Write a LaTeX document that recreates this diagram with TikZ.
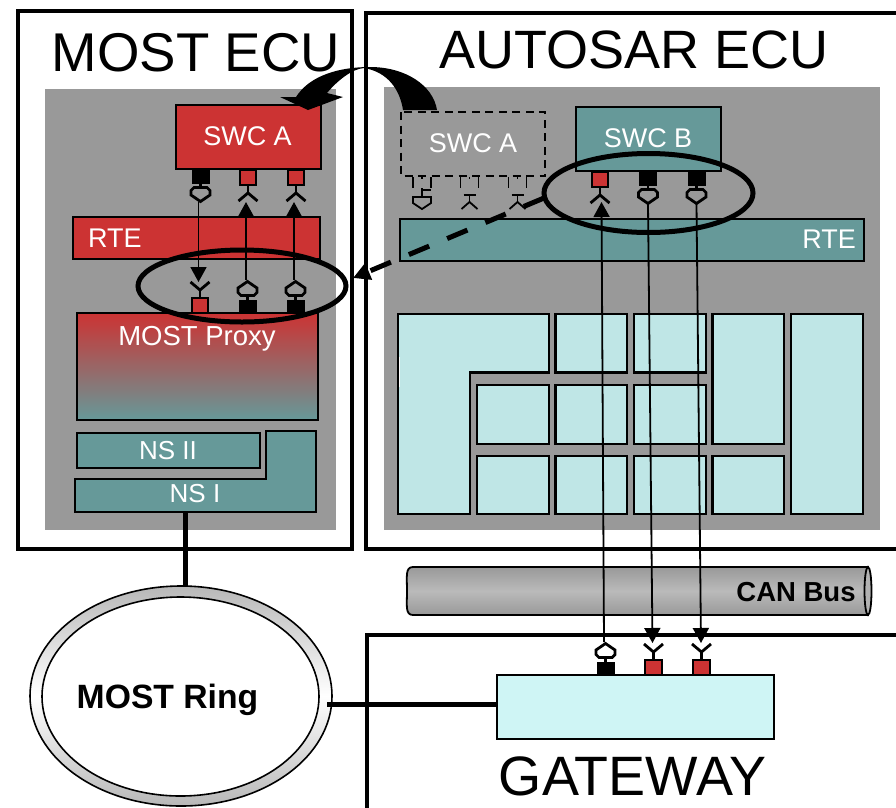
\documentclass[tikz,border=0pt]{standalone}
\usepackage{fontspec}
\setmainfont{Liberation Sans}
\usetikzlibrary{arrows.meta,shapes.geometric}
\definecolor{cred}{HTML}{CC3333}
\definecolor{cteal}{HTML}{669999}
\definecolor{cgrey}{HTML}{999999}
\definecolor{cpale}{HTML}{BFE6E6}
\definecolor{cgate}{HTML}{CFF5F5}
\newcommand{\fsz}[1]{\fontsize{#1}{#1}\selectfont}
\newcommand{\bx}[6][]{%
  \pgfmathsetmacro{\bxw}{#5-#3}\pgfmathsetmacro{\bxh}{#6-#4}%
  \pgfmathsetmacro{\bxcx}{(#3+#5)/2}\pgfmathsetmacro{\bxcy}{(#4+#6)/2}%
  \node[boxnode,minimum width=\bxw pt,minimum height=\bxh pt,#1] (#2) at (\bxcx,\bxcy) {};}
\tikzset{
  boxnode/.style={rectangle,draw=black,line width=2.4pt,inner sep=0,outer sep=0},
  frame/.style={boxnode,line width=3.6pt,fill=none},
  backdrop/.style={boxnode,draw=none,fill=cgrey},
  redbox/.style={boxnode,fill=cred},
  tealbox/.style={boxnode,fill=cteal},
  cell/.style={boxnode,fill=cpale,line width=2.1pt},
  title/.style={inner sep=0,text=black,font=\fsz{54}},
  lab/.style={inner sep=0,text=white,font=\fsz{27}},
  nslab/.style={inner sep=0,text=white,font=\fsz{26}},
  boldlab/.style={inner sep=0,text=black,font=\fsz{27.5}\bfseries},
  wire/.style={line width=1.8pt,-{Triangle[width=16pt,length=15pt]}},
  thick link/.style={line width=5pt,line cap=butt},
  callout/.style={ellipse,draw=black,line width=5pt,fill=none,inner sep=0,outer sep=0},
  portblack/.pic={
    \fill[black] (-9,0) rectangle (9,13.5);
    \draw[line width=2.8pt] (0,13)--(0,17);
    \draw[line width=2.8pt,line join=miter] (-6.5,17.5)--(6.5,17.5)--(9.5,20.5)--(9.5,25)--(0,31.5)--(-9.5,25)--(-9.5,20.5)--cycle;
  },
  portred/.pic={
    \draw[line width=1.9pt,fill=cred] (-8.3,0) rectangle (8.3,15);
    \draw[line width=2.8pt] (0,15)--(0,23);
    \draw[line width=2.8pt] (-9.5,31)--(0,23)--(9.5,31);
  },
  ghostshield/.pic={
    \draw[line width=1.8pt] (-9,1)--(-9,12) (9,1)--(9,12) (0,1)--(0,3);
    \draw[line width=1.8pt] (0,12)--(0,21) (0,14)--(9,14);
    \draw[line width=1.8pt,line join=miter] (-9,21)--(9,21)--(9,27)--(0,33)--(-9,27)--cycle;
  },
  ghostfork/.pic={
    \draw[line width=1.8pt] (-9,1)--(-9,12) (9,1)--(9,12) (0,1)--(0,3);
    \draw[line width=1.8pt] (-6,19)--(6,19) (0,19)--(0,26);
    \draw[line width=1.8pt] (-8,33)--(0,26)--(8,33);
  },
}
\begin{document}
\begin{tikzpicture}[x=1pt,y=-1pt]
\useasboundingbox (0,0) rectangle (896,807);
\fill[white] (0,0) rectangle (896,807);
\clip (0,0) rectangle (896,807);

% outer frames and backdrops
\bx[frame]{mostfr}{18}{11}{352}{549}
\bx[frame]{autofr}{366}{13}{905}{549}
\bx[frame]{gatefr}{367}{635}{905}{815}
\bx[backdrop]{mostbg}{45}{89}{336}{530}
\bx[backdrop]{autobg}{384}{87}{880}{530}
\node[title,font=\fsz{54.6}] (tmost) at (196,53) {MOST ECU};
\node[title] (tauto) at (634,50) {AUTOSAR ECU};
\node[title,font=\fsz{55.5}] (tgate) at (632.5,776) {GATEWAY};

% MOST ECU blocks
\bx[redbox]{swca}{176}{105}{321}{169}
\node[lab] (tswca) at (247.5,136) {SWC A};
\bx[redbox]{rtel}{73}{217}{320}{259}
\node[lab,anchor=west] (trtel) at (88,238) {RTE};
\bx[boxnode,top color=cred,bottom color=cteal]{proxy}{77}{313}{318}{420}
\node[lab,font=\fsz{27.5}] (tproxy) at (197,339) {MOST Proxy};
\bx[tealbox]{nsii}{77}{433}{260}{468}
\node[nslab] (tnsii) at (168,451) {NS II};
\draw[line width=2.4pt,fill=cteal,line join=miter] (266,431)--(316,431)--(316,512)--(75,512)--(75,479)--(266,479)--cycle;
\node[nslab] (tnsi) at (195,494) {NS I};

% AUTOSAR ECU blocks
\bx[boxnode,fill=none,draw=none]{ghost}{401}{112}{545}{176}
\draw[line width=2.2pt,dash pattern=on 8pt off 5.5pt] (401,112) rectangle (545,176);
\node[lab] (tghost) at (473,143) {SWC A};
\bx[tealbox]{swcb}{576}{107}{721}{171}
\node[lab] (tswcb) at (648,138) {SWC B};
\bx[tealbox]{rter}{400}{219}{864}{261}
\node[lab,anchor=east] (trter) at (856,239) {RTE};

% pale grid
\draw[cell,fill=cpale] (398,314)--(549,314)--(549,372.5)--(470,372.5)--(470,514)--(398,514)--cycle;
\fill[white] (398.6,357) rectangle (400,387);
\bx[cell]{ca}{555.5}{314}{627}{372.5}
\bx[cell]{cb}{634}{314}{706}{372.5}
\bx[cell]{cc}{712.5}{314}{784}{444}
\bx[cell]{cd}{791}{314}{863}{514}
\bx[cell]{ce}{477}{385}{549}{444}
\bx[cell]{cf}{555.5}{385}{627}{444}
\bx[cell]{cg}{634}{385}{706}{444}
\bx[cell]{ch}{477}{456}{549}{514}
\bx[cell]{ci}{555.5}{456}{627}{514}
\bx[cell]{cj}{634}{456}{706}{514}
\bx[cell]{ck}{712.5}{456}{784}{514}

% CAN bus
\draw[line width=1.8pt,top color=cgrey,bottom color=cgrey,middle color=black!27]
  (413,567)--(868,567)--(868,615)--(413,615) .. controls (405,615) and (407,605) .. (407,591) .. controls (407,577) and (405,567) .. (413,567)--cycle;
\draw[line width=1.8pt,fill=black!30] (868,591) ellipse [x radius=3.5,y radius=24];
\node[boldlab] (tcan) at (796,592) {CAN Bus};

% MOST ring
\node[ellipse,draw=black,line width=1.6pt,minimum width=302pt,minimum height=220pt,inner sep=0,outer sep=0,top color=black!28,bottom color=black!28,middle color=white] (ringout) at (181,696) {};
\node[ellipse,draw=black,line width=1.6pt,fill=white,minimum width=277pt,minimum height=199pt,inner sep=0,outer sep=0] (ringin) at (180.5,696.5) {};
\node[boldlab,font=\fsz{33.7}\bfseries] (tring) at (167.5,700) {MOST Ring};

% gateway block
\bx[boxnode,fill=cgate]{gw}{497}{675}{774}{739}

% ports on SWC A
\pic (pa) at (200.5,170) {portblack};
\pic (pb) at (248,170) {portred};
\pic (pc) at (296,170) {portred};
% ports on the proxy
\pic[yscale=-1] (pd) at (200,313) {portred};
\pic[yscale=-1] (pe) at (247.5,313) {portblack};
\pic[yscale=-1] (pf) at (295.5,313) {portblack};
% ghost ports
\pic (pg) at (422,176) {ghostshield};
\pic (ph) at (469.5,176) {ghostfork};
\pic (pi) at (517.5,176) {ghostfork};
% ports on SWC B
\pic (pj) at (600,172) {portred};
\pic (pk) at (648,172) {portblack};
\pic (pl) at (696.5,172) {portblack};
% ports on the gateway
\pic[yscale=-1] (pm) at (605.5,675) {portblack};
\pic[yscale=-1] (pn) at (653.5,675) {portred};
\pic[yscale=-1] (po) at (701.5,675) {portred};

% connector ends
\coordinate (a1) at (198.5,202);
\coordinate (a2) at (198.5,282);
\coordinate (b1) at (246,280);
\coordinate (b2) at (246,202);
\coordinate (c1) at (294,280);
\coordinate (c2) at (294,202);
\coordinate (d1) at (604,642);
\coordinate (d2) at (601.5,202);
\coordinate (e1) at (648,204);
\coordinate (e2) at (652.5,643);
\coordinate (f1) at (696.5,204);
\coordinate (f2) at (701,643);
\draw[wire] (a1)--(a2);
\draw[wire] (b1)--(b2);
\draw[wire] (c1)--(c2);
\draw[wire] (d1)--(d2);
\draw[wire] (e1)--(e2);
\draw[wire] (f1)--(f2);

% links
\coordinate (nsdrop) at (185,512);
\coordinate (ringtop) at (185,587);
\coordinate (ringside) at (327,704);
\coordinate (gwside) at (497,704);
\draw[thick link] (nsdrop)--(ringtop);
\draw[thick link] (ringside)--(gwside);

% callouts
\node[callout,minimum width=208pt,minimum height=72pt] (ell) at (242,286) {};
\node[callout,minimum width=209pt,minimum height=79pt] (elr) at (648.5,193) {};
\coordinate (dashstart) at (544,198);
\coordinate (dashend) at (353,278);
\draw[line width=5pt,dash pattern=on 22pt off 19.5pt,-{Triangle[width=17pt,length=17pt]}] (dashstart)--(dashend);

% migration arrow
\fill[black] (437,110) .. controls (433,85) and (405,67) .. (370,67)
  .. controls (340,67) and (310,75) .. (296,97) -- (280,97) -- (308,110) -- (343,97) -- (327,93)
  .. controls (338,80) and (352,69) .. (364,68)
  .. controls (388,72) and (400,90) .. (403,110) -- cycle;
\end{tikzpicture}
\end{document}
